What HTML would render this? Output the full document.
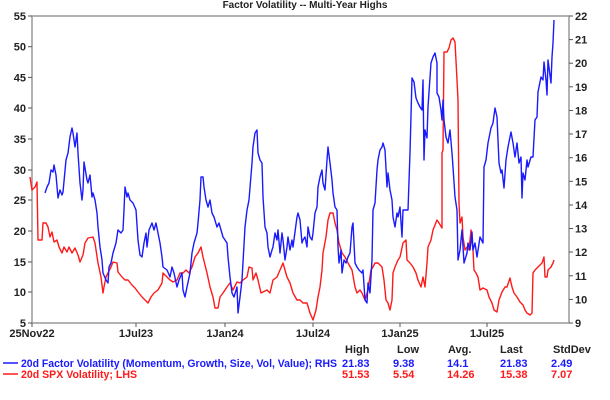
<!DOCTYPE html>
<html><head><style>
body{margin:0;background:#fff;}
svg{display:block;font-family:"Liberation Sans",sans-serif;}
</style></head><body>
<svg width="610" height="400" viewBox="0 0 610 400">
<text x="305" y="8" text-anchor="middle" font-size="10" font-weight="bold" fill="#222">Factor Volatility -- Multi-Year Highs</text>
<rect x="32" y="16" width="537" height="307" fill="none" stroke="#999" stroke-width="1.5"/>
<g stroke="#555" stroke-width="1">
<line x1="28" y1="16" x2="32" y2="16"/><line x1="28" y1="46.7" x2="32" y2="46.7"/><line x1="28" y1="77.4" x2="32" y2="77.4"/><line x1="28" y1="108" x2="32" y2="108"/><line x1="28" y1="139" x2="32" y2="139"/><line x1="28" y1="170" x2="32" y2="170"/><line x1="28" y1="200" x2="32" y2="200"/><line x1="28" y1="231" x2="32" y2="231"/><line x1="28" y1="262" x2="32" y2="262"/><line x1="28" y1="292" x2="32" y2="292"/><line x1="28" y1="323" x2="32" y2="323"/>
<line x1="569" y1="16" x2="573" y2="16"/><line x1="569" y1="39.6" x2="573" y2="39.6"/><line x1="569" y1="63.2" x2="573" y2="63.2"/><line x1="569" y1="86.8" x2="573" y2="86.8"/><line x1="569" y1="110.5" x2="573" y2="110.5"/><line x1="569" y1="134" x2="573" y2="134"/><line x1="569" y1="157.7" x2="573" y2="157.7"/><line x1="569" y1="181.3" x2="573" y2="181.3"/><line x1="569" y1="205" x2="573" y2="205"/><line x1="569" y1="228.5" x2="573" y2="228.5"/><line x1="569" y1="252" x2="573" y2="252"/><line x1="569" y1="275.8" x2="573" y2="275.8"/><line x1="569" y1="299.4" x2="573" y2="299.4"/><line x1="569" y1="323" x2="573" y2="323"/>
<line x1="32" y1="323" x2="32" y2="327"/><line x1="136" y1="323" x2="136" y2="327"/><line x1="225" y1="323" x2="225" y2="327"/><line x1="313" y1="323" x2="313" y2="327"/><line x1="400" y1="323" x2="400" y2="327"/><line x1="487" y1="323" x2="487" y2="327"/>
</g>
<g font-size="11" font-weight="bold" fill="#222" text-anchor="end">
<text x="26" y="20">55</text><text x="26" y="50.7">50</text><text x="26" y="81.4">45</text><text x="26" y="112">40</text><text x="26" y="143">35</text><text x="26" y="174">30</text><text x="26" y="204">25</text><text x="26" y="235">20</text><text x="26" y="266">15</text><text x="26" y="296">10</text><text x="26" y="327">5</text>
</g>
<g font-size="11" font-weight="bold" fill="#222">
<text x="575" y="20">22</text><text x="575" y="43.6">21</text><text x="575" y="67.2">20</text><text x="575" y="90.8">19</text><text x="575" y="114.5">18</text><text x="575" y="138">17</text><text x="575" y="161.7">16</text><text x="575" y="185.3">15</text><text x="575" y="209">14</text><text x="575" y="232.5">13</text><text x="575" y="256">12</text><text x="575" y="279.8">11</text><text x="575" y="303.4">10</text><text x="575" y="327">9</text>
</g>
<g font-size="11" font-weight="bold" fill="#222" text-anchor="middle">
<text x="32" y="337">25Nov22</text><text x="136" y="337">1Jul23</text><text x="225" y="337">1Jan24</text><text x="313" y="337">1Jul24</text><text x="400" y="337">1Jan25</text><text x="487" y="337">1Jul25</text>
</g>
<polyline fill="none" stroke="#ff1a1a" stroke-width="1.4" stroke-linejoin="round" points="30,177 32,190 35,187 37,182 38,240 42,240 43,223 46,223 48,227 50,237 52,232 54,242 57,240 59,247 62,253 64,247 67,252 69,247 72,253 75,248 78,255 80,262 83,255 85,243 88,238 93,237 95,243 98,263 101,277 103,293 104,287 106,277 108,273 111,267 113,262 117,263 118,272 122,277 125,280 128,280 132,285 135,288 138,292 142,297 145,300 148,303 151,297 154,293 158,290 162,283 163,273 167,277 170,280 173,282 177,280 180,273 183,273 186,270 189,273 192,267 195,257 198,253 201,247 203,257 207,273 210,287 213,297 215,308 218,308 220,297 223,293 227,287 230,283 233,290 237,282 240,283 243,280 247,277 249,267 252,268 253,280 256,273 258,280 261,293 263,292 267,290 270,293 273,280 277,277 280,270 283,263 285,270 287,277 290,283 293,293 297,300 300,300 303,303 307,303 310,313 313,320 316,310 318,297 320,287 322,270 323,253 326,237 328,220 330,213 333,213 335,223 337,230 339,243 342,253 345,257 348,263 352,270 355,287 357,293 360,290 362,293 365,300 368,290 371,270 373,267 375,263 378,263 382,267 384,280 386,300 388,303 390,310 392,300 393,273 395,267 398,260 400,257 403,243 406,240 407,260 410,263 413,267 416,273 418,280 421,287 423,277 425,287 427,263 428,247 431,240 433,230 435,225 437,220 439,223 442,228 442,153 443,150 444,52 447,52 449,48 451,40 453,38 455,42 457,80 458,100 459,203 460,223 462,217 463,237 465,250 467,247 469,250 471,230 473,250 474,270 476,273 478,277 480,290 483,288 487,290 489,297 492,303 494,310 497,312 499,300 502,292 505,287 507,287 510,278 512,287 514,293 517,297 520,302 523,305 525,310 527,313 530,315 532,313 533,273 535,270 538,267 542,263 544,257 545,277 547,277 548,270 551,267 553,263 554,260"/>
<polyline fill="none" stroke="#1a1aff" stroke-width="1.4" stroke-linejoin="round" points="45,193 47,187 49,183 51,170 53,172 54,165 56,175 58,198 60,190 62,195 63,192 66,160 68,153 70,137 72,128 73,133 75,147 77,133 78,153 80,183 82,200 83,190 84,162 87,180 88,183 90,175 92,197 93,193 95,200 97,213 98,227 100,247 102,260 103,273 106,280 108,283 109,267 111,263 113,253 116,243 118,230 121,233 123,230 124,210 125,187 127,197 128,193 130,200 133,203 136,210 138,240 140,255 142,257 144,243 146,233 147,247 149,230 152,223 154,230 156,223 158,233 160,243 162,257 163,267 167,270 170,277 172,267 174,273 177,287 179,280 182,273 183,290 185,297 187,287 190,273 192,253 194,243 197,233 198,223 200,200 201,177 203,177 204,187 206,200 208,207 210,200 212,213 214,217 217,227 219,223 223,237 227,243 228,257 230,277 232,293 234,297 237,287 238,313 240,297 242,280 245,227 247,210 249,200 252,163 253,147 255,133 257,130 258,153 260,160 262,163 263,197 265,227 267,233 268,247 270,257 272,250 273,247 275,233 277,240 278,230 280,253 282,233 283,240 285,260 287,247 288,237 290,250 292,240 293,247 297,217 298,213 300,220 302,243 303,240 305,237 307,247 308,227 310,237 312,240 313,233 315,213 317,207 318,187 320,177 322,170 323,183 325,190 327,160 328,147 330,163 332,180 333,193 335,207 337,210 338,247 339,263 341,250 342,273 344,260 346,263 348,257 350,253 352,227 353,223 355,263 357,267 359,270 362,273 363,270 365,300 367,303 368,283 370,293 372,260 373,210 375,203 377,170 378,160 380,150 382,147 383,143 385,150 387,187 388,173 390,190 392,200 393,217 395,227 397,213 398,217 400,207 402,237 403,210 408,210 410,153 412,78 414,82 416,98 418,103 420,107 422,110 423,80 424,160 425,130 427,138 428,107 431,63 433,57 435,53 437,63 437,93 439,97 441,110 442,120 443,100 444,120 446,137 448,143 450,130 452,153 453,167 455,197 457,210 458,260 460,250 462,230 464,263 467,253 468,243 470,250 472,232 473,250 475,243 477,257 480,237 483,243 484,167 486,160 488,143 491,128 493,123 495,108 497,117 498,140 499,163 501,173 502,170 504,188 506,160 508,147 511,132 513,143 515,157 517,143 519,163 521,157 522,198 523,173 525,180 527,160 528,167 531,157 533,157 535,120 537,117 538,92 541,77 543,80 544,62 546,80 547,95 548,60 551,83 552,57 553,43 554,20"/>
<g font-size="11" font-weight="bold">
<text x="345" y="353" fill="#222">High</text>
<text x="397" y="353" fill="#222">Low</text>
<text x="448" y="353" fill="#222">Avg.</text>
<text x="500" y="353" fill="#222">Last</text>
<text x="553" y="353" fill="#222">StdDev</text>
<line x1="3" y1="363" x2="18" y2="363" stroke="#1a1aff" stroke-width="1.5"/>
<text x="21" y="367" fill="#1a1aff" textLength="316" lengthAdjust="spacingAndGlyphs">20d Factor Volatility (Momentum, Growth, Size, Vol, Value); RHS</text>
<text x="342" y="367" fill="#1a1aff">21.83</text><text x="393" y="367" fill="#1a1aff">9.38</text><text x="447" y="367" fill="#1a1aff">14.1</text><text x="500" y="367" fill="#1a1aff">21.83</text><text x="551" y="367" fill="#1a1aff">2.49</text>
<line x1="3" y1="374" x2="18" y2="374" stroke="#ff1a1a" stroke-width="1.5"/>
<text x="21" y="378" fill="#ff1a1a" textLength="116" lengthAdjust="spacingAndGlyphs">20d SPX Volatility; LHS</text>
<text x="342" y="378" fill="#ff1a1a">51.53</text><text x="393" y="378" fill="#ff1a1a">5.54</text><text x="447" y="378" fill="#ff1a1a">14.26</text><text x="500" y="378" fill="#ff1a1a">15.38</text><text x="551" y="378" fill="#ff1a1a">7.07</text>
</g>
</svg>
</body></html>
